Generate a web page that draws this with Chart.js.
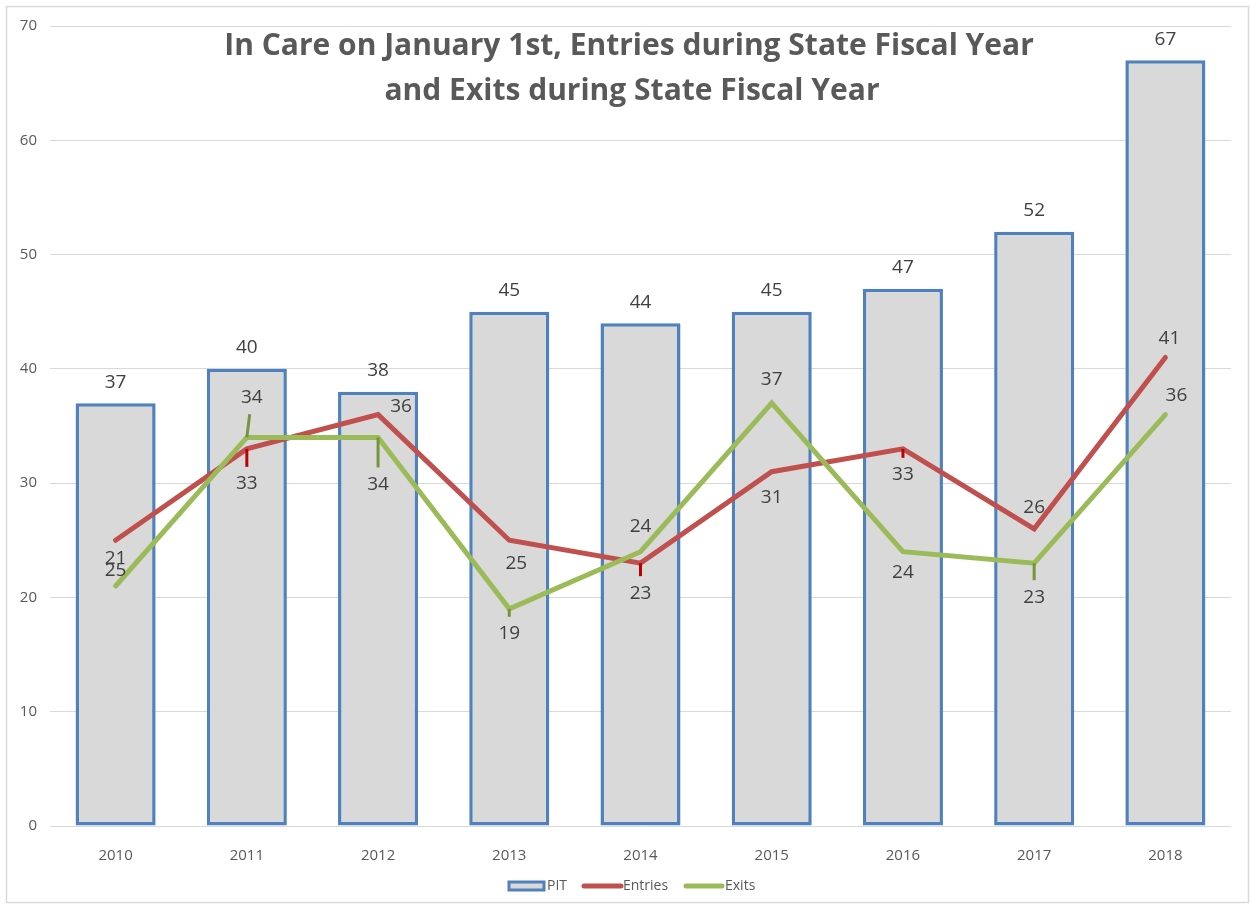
<!DOCTYPE html>
<html>
<head>
<meta charset="utf-8">
<script src="https://cdn.jsdelivr.net/npm/chart.js@4.4.1/dist/chart.umd.min.js"></script>
<style>
  html, body { margin: 0; padding: 0; background: #fff; }
  #wrap { position: absolute; left: 0; top: 0; width: 1251px; height: 907px; }
</style>
</head>
<body>
<div id="wrap"><canvas id="chart"></canvas></div>
<script>
const years = ['2010', '2011', '2012', '2013', '2014', '2015', '2016', '2017', '2018'];
const pit = [37, 40, 38, 45, 44, 45, 47, 52, 67];
const entries = [25, 33, 36, 25, 23, 31, 33, 26, 41];
const exits = [21, 34, 34, 19, 24, 37, 24, 23, 36];
const yTicks = [0, 10, 20, 30, 40, 50, 60, 70];

const titleLines = ['In Care on January 1st, Entries during State Fiscal Year', 'and Exits during State Fiscal Year'];

// label placement (dx, dy from the point) as set by hand in the original
const entriesLabelPos = [[0, 30], [0, 35], [23, -8], [7, 23], [0, 30], [0, 26], [0, 26], [0, -21], [4, -19]];
const exitsLabelPos = [[0, -27], [5, -40], [0, 47], [0, 25], [0, -25], [0, -24], [0, 21], [0, 34], [11, -19]];
const entriesLeader = [0, 1, 0, 0, 1, 0, 1, 0, 0];
const exitsLeader = [0, 1, 1, 1, 0, 0, 0, 1, 0];

const labelFont = '19px "Open Sans"';
const textColor = '#404040';

const labelsPlugin = {
  id: 'pointLabels',
  afterDatasetsDraw(chart) {
    const ctx = chart.ctx;
    ctx.save();
    ctx.font = labelFont;
    ctx.fillStyle = textColor;
    ctx.textAlign = 'center';
    ctx.textBaseline = 'middle';

    // bar labels above the bars
    chart.getDatasetMeta(0).data.forEach((el, i) => {
      ctx.fillText(pit[i], el.x, el.y - 21);
    });

    const drawSeries = (idx, values, pos, leader, leaderColor) => {
      chart.getDatasetMeta(idx).data.forEach((el, i) => {
        const lx = el.x + pos[i][0];
        const ly = el.y + pos[i][1];
        if (leader[i]) {
          const dx = lx - el.x, dy = ly - el.y;
          const len = Math.sqrt(dx * dx + dy * dy);
          const k = (len - 17) / len;
          ctx.strokeStyle = leaderColor;
          ctx.lineWidth = 3;
          ctx.beginPath();
          ctx.moveTo(el.x, el.y);
          ctx.lineTo(el.x + dx * k, el.y + dy * k);
          ctx.stroke();
        }
        ctx.fillStyle = textColor;
        ctx.fillText(values[i], lx, ly);
      });
    };
    drawSeries(2, exits, exitsLabelPos, exitsLeader, '#77933C');
    drawSeries(1, entries, entriesLabelPos, entriesLeader, '#C00000');
    ctx.restore();
  }
};

const decorPlugin = {
  id: 'decor',
  afterDraw(chart) {
    const ctx = chart.ctx;
    ctx.save();
    // outer frame
    ctx.strokeStyle = '#D9D9D9';
    ctx.lineWidth = 1.5;
    ctx.strokeRect(6.5, 6.5, 1242, 896);

    // title
    ctx.fillStyle = '#595959';
    ctx.font = 'bold 30px "Open Sans"';
    ctx.textAlign = 'center';
    ctx.textBaseline = 'alphabetic';
    ctx.fillText(titleLines[0], 629, 55);
    ctx.fillText(titleLines[1], 632, 100);

    // legend
    ctx.font = '14px "Open Sans"';
    ctx.textAlign = 'left';
    ctx.textBaseline = 'middle';
    ctx.fillStyle = '#D9D9D9';
    ctx.fillRect(509, 882, 35, 8);
    ctx.strokeStyle = '#4F81BD';
    ctx.lineWidth = 3;
    ctx.strokeRect(509, 882, 35, 8);
    ctx.fillStyle = '#595959';
    ctx.fillText('PIT', 547, 886);

    ctx.lineCap = 'round';
    ctx.lineWidth = 5;
    ctx.strokeStyle = '#C0504D';
    ctx.beginPath(); ctx.moveTo(584, 886); ctx.lineTo(621, 886); ctx.stroke();
    ctx.fillText('Entries', 623, 886);
    ctx.strokeStyle = '#9BBB59';
    ctx.beginPath(); ctx.moveTo(686, 886); ctx.lineTo(722, 886); ctx.stroke();
    ctx.fillText('Exits', 725, 886);
    ctx.restore();
  }
};

new Chart(document.getElementById('chart'), {
  data: {
    labels: years,
    datasets: [
      {
        type: 'bar',
        label: 'PIT',
        data: pit,
        backgroundColor: '#D9D9D9',
        borderColor: '#4F81BD',
        borderWidth: 3.5,
        borderSkipped: false,
        barPercentage: 0.61,
        categoryPercentage: 1,
        order: 2,
      },
      {
        type: 'line',
        label: 'Entries',
        data: entries,
        borderColor: '#C0504D',
        backgroundColor: '#C0504D',
        borderWidth: 5,
        pointRadius: 0,
        tension: 0,
        borderCapStyle: 'round',
        order: 1,
      },
      {
        type: 'line',
        label: 'Exits',
        data: exits,
        borderColor: '#9BBB59',
        backgroundColor: '#9BBB59',
        borderWidth: 5,
        pointRadius: 0,
        tension: 0,
        borderCapStyle: 'round',
        order: 0,
      },
    ],
  },
  options: {
    responsive: true,
    maintainAspectRatio: false,
    animation: false,
    layout: { padding: { left: 0, right: 20, top: 26, bottom: 0 } },
    plugins: {
      legend: { display: false },
      title: { display: false },
      tooltip: { enabled: false },
    },
    scales: {
      x: {
        offset: true,
        grid: { display: false },
        border: { display: false },
        ticks: { color: '#595959', font: { family: 'Open Sans', size: 15 }, padding: 13 },
        afterFit: (scale) => { scale.height = 81; },
      },
      y: {
        min: 0,
        max: 70,
        afterBuildTicks: (scale) => { scale.ticks = yTicks.map((v) => ({ value: v })); },
        grid: { color: '#D9D9D9', drawTicks: false, lineWidth: 1 },
        border: { display: false },
        ticks: { color: '#595959', font: { family: 'Open Sans', size: 15 }, padding: 13 },
        afterFit: (scale) => { scale.width = 50; },
      },
    },
  },
  plugins: [labelsPlugin, decorPlugin],
});
</script>
</body>
</html>
